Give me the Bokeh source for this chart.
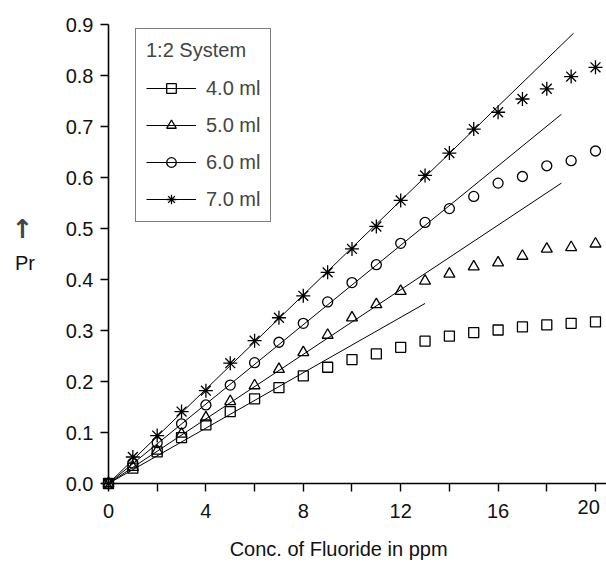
from bokeh.plotting import figure
from bokeh.models import Range1d, FixedTicker, Legend, LegendItem, Label, LinearAxis
from bokeh.embed import file_html
from bokeh.resources import INLINE

# ---- data ----
conc = list(range(21))
ml4 = [0.000, 0.030, 0.062, 0.090, 0.115, 0.141, 0.166, 0.188, 0.211, 0.228, 0.243,
       0.254, 0.267, 0.279, 0.289, 0.296, 0.301, 0.307, 0.311, 0.314, 0.317]
ml5 = [0.000, 0.032, 0.064, 0.097, 0.129, 0.161, 0.192, 0.224, 0.257, 0.291, 0.325,
       0.351, 0.377, 0.397, 0.411, 0.425, 0.433, 0.446, 0.460, 0.463, 0.470]
ml6 = [0.000, 0.040, 0.080, 0.117, 0.154, 0.193, 0.237, 0.277, 0.314, 0.356, 0.394,
       0.429, 0.471, 0.512, 0.539, 0.563, 0.589, 0.602, 0.623, 0.633, 0.652]
ml7 = [0.000, 0.052, 0.094, 0.141, 0.182, 0.236, 0.280, 0.325, 0.368, 0.414, 0.460,
       0.504, 0.555, 0.604, 0.648, 0.695, 0.728, 0.754, 0.774, 0.798, 0.816]
series_names = ["4.0 ml", "5.0 ml", "6.0 ml", "7.0 ml"]
series_markers = ["square", "triangle", "circle", "asterisk"]
# straight (linear) fit lines from origin to end point
fit_x_end = [13.0, 18.6, 18.6, 19.1]
fit_y_end = [0.353, 0.589, 0.724, 0.883]
x_ticks = [0, 2, 4, 6, 8, 10, 12, 14, 16, 18, 20]
x_tick_labels = ["0", "", "4", "", "8", "", "12", "", "16", "", "20"]
y_ticks = [0.0, 0.1, 0.2, 0.3, 0.4, 0.5, 0.6, 0.7, 0.8, 0.9]
legend_title = "1:2 System"
x_title = "Conc. of Fluoride in ppm"
y_title = "Pr"

FONT = "Liberation Sans"

p = figure(width=606, height=562, output_backend="svg", toolbar_location=None,
           x_range=Range1d(-4.435, 20.452), y_range=Range1d(-0.1549, 0.9471),
           min_border=0, outline_line_color=None,
           x_axis_location=None, y_axis_location=None)
p.grid.visible = False
p.background_fill_color = "white"

xa = LinearAxis(fixed_location=0, bounds=(0, 20.452))
ya = LinearAxis(fixed_location=0, bounds=(0, 0.9))
p.add_layout(xa, "below")
p.add_layout(ya, "left")

last_x_label = x_tick_labels[-1]
overrides = {t: l for t, l in zip(x_ticks, x_tick_labels)}
overrides[x_ticks[-1]] = ""  # drawn separately, nudged in from the edge
xa.ticker = FixedTicker(ticks=x_ticks)
xa.major_label_overrides = overrides
ya.ticker = FixedTicker(ticks=y_ticks)
ya.major_label_overrides = {t: f"{t:.1f}" for t in y_ticks}
for ax in (xa, ya):
    ax.axis_line_width = 1.6
    ax.axis_line_color = "black"
    ax.major_tick_line_width = 1.4
    ax.major_tick_in = 0
    ax.major_tick_out = 8
    ax.minor_tick_line_color = None
    ax.major_label_text_font = FONT
    ax.major_label_text_font_size = "20px"
    ax.major_label_text_color = "#111111"
xa.major_label_standoff = 12
ya.major_label_standoff = 7

series = [ml4, ml5, ml6, ml7]
sizes = [10, 11, 10, 14]
items = []
for name, mk, ys, xe, ye, sz in zip(series_names, series_markers, series, fit_x_end, fit_y_end, sizes):
    lr = p.line([0, xe], [0, ye], line_color="black", line_width=1)
    sr = p.scatter(conc, ys, marker=mk, size=sz, line_color="black", fill_color=None,
                   line_width=1.3)
    items.append(LegendItem(label=name, renderers=[lr, sr]))

leg = Legend(items=items, location=(135, 340), title=legend_title,
             title_text_font=FONT, title_text_font_size="20px", title_text_font_style="normal",
             title_standoff=14,
             label_text_font=FONT, label_text_font_size="20px",
             glyph_width=50, glyph_height=24, label_height=24, spacing=13,
             label_standoff=10, padding=10, margin=0,
             border_line_color="black", border_line_width=1.5,
             background_fill_color="white", background_fill_alpha=1)
p.add_layout(leg, "center")

p.add_layout(Label(x=19.72, y=-0.047, text=last_x_label, text_font=FONT, text_font_size="20px",
                   text_align="center", text_baseline="middle", text_color="#111111"))
p.add_layout(Label(x=9.45, y=-0.129, text=x_title, text_font=FONT, text_font_size="20px",
                   text_align="center", text_baseline="middle", text_color="#111111"))
p.add_layout(Label(x=-3.53, y=0.50, text="\u2191", text_font="DejaVu Sans",
                   text_font_size="26px", text_font_style="bold",
                   text_align="center", text_baseline="middle"))
p.add_layout(Label(x=-3.43, y=0.433, text=y_title, text_font=FONT, text_font_size="20px",
                   text_align="center", text_baseline="middle", text_color="#111111"))

open("out.html", "w").write(file_html(p, INLINE))
